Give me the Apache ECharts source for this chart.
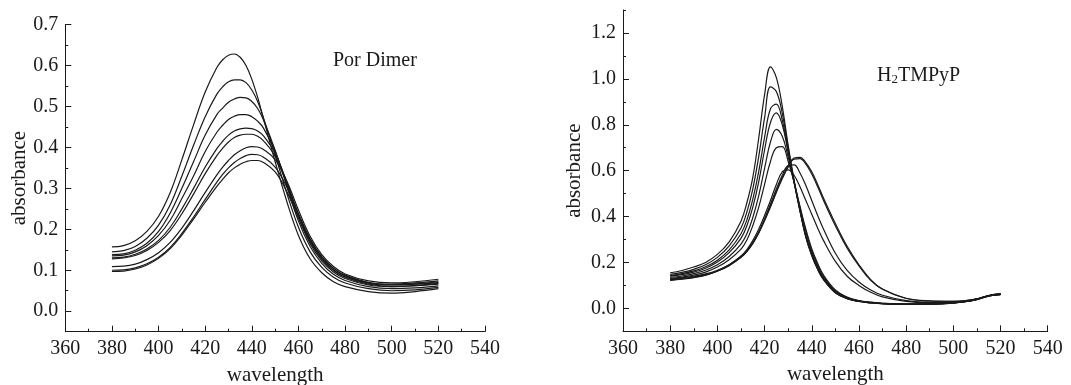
<!DOCTYPE html>
<html><head><meta charset="utf-8">
<script src="https://cdn.jsdelivr.net/npm/echarts@6/dist/echarts.min.js"></script>
<style>html,body{margin:0;padding:0;background:#fff}#c{width:1071px;height:385px}</style>
</head><body><div id="c"></div>
<script>
// ---- Left panel: Por Dimer ----
const wlLeft = [380,385,390,395,400,405,410,415,420,425,427.5,430,432.5,435,437.5,440,442.5,445,450,455,460,465,470,475,480,490,500,510,520];
const dimer1 = [0.157,0.160,0.172,0.195,0.232,0.290,0.370,0.455,0.535,0.595,0.614,0.625,0.628,0.620,0.600,0.566,0.522,0.470,0.365,0.268,0.185,0.128,0.094,0.072,0.060,0.048,0.044,0.048,0.055];
const dimer2 = [0.145,0.148,0.158,0.178,0.210,0.260,0.330,0.405,0.475,0.530,0.548,0.560,0.565,0.565,0.558,0.540,0.512,0.472,0.382,0.288,0.205,0.145,0.107,0.083,0.069,0.055,0.050,0.052,0.058];
const dimer3 = [0.138,0.140,0.149,0.166,0.195,0.240,0.300,0.365,0.430,0.480,0.496,0.510,0.518,0.522,0.521,0.512,0.495,0.467,0.393,0.305,0.220,0.158,0.117,0.090,0.075,0.060,0.055,0.057,0.062];
const dimer4 = [0.135,0.137,0.145,0.160,0.185,0.222,0.275,0.330,0.390,0.437,0.454,0.468,0.476,0.480,0.480,0.475,0.464,0.447,0.390,0.310,0.228,0.165,0.123,0.096,0.080,0.064,0.060,0.062,0.066];
const dimer5 = [0.130,0.132,0.139,0.152,0.173,0.205,0.250,0.300,0.352,0.397,0.415,0.430,0.440,0.445,0.447,0.446,0.440,0.428,0.385,0.315,0.235,0.172,0.128,0.100,0.084,0.068,0.064,0.066,0.070];
const dimer6 = [0.128,0.130,0.136,0.148,0.168,0.197,0.238,0.286,0.336,0.380,0.398,0.413,0.424,0.430,0.432,0.432,0.427,0.416,0.378,0.313,0.238,0.176,0.132,0.104,0.087,0.070,0.066,0.069,0.074];
const dimer7 = [0.109,0.110,0.115,0.126,0.143,0.168,0.203,0.245,0.290,0.333,0.352,0.368,0.382,0.392,0.399,0.402,0.401,0.395,0.370,0.318,0.247,0.183,0.138,0.109,0.091,0.074,0.069,0.072,0.078];
const dimer8 = [0.100,0.101,0.106,0.116,0.132,0.156,0.190,0.230,0.273,0.315,0.334,0.350,0.363,0.373,0.380,0.383,0.382,0.376,0.352,0.303,0.237,0.176,0.133,0.105,0.088,0.070,0.064,0.067,0.072];
const dimer9 = [0.097,0.098,0.103,0.113,0.129,0.153,0.186,0.225,0.266,0.305,0.322,0.338,0.350,0.359,0.365,0.368,0.368,0.363,0.340,0.292,0.228,0.170,0.128,0.100,0.083,0.066,0.060,0.063,0.068];
const dimerSeries = [dimer1,dimer2,dimer3,dimer4,dimer5,dimer6,dimer7,dimer8,dimer9];

// ---- Right panel: H2TMPyP ----
const wlRight = [380,385,390,395,400,405,410,412.5,415,417.5,420,422.5,425,427.5,430,432.5,435,437.5,440,442.5,445,450,455,460,465,470,480,490,500,505,510,515,520];
const tmpyp1 = [0.155,0.165,0.180,0.200,0.235,0.290,0.380,0.460,0.570,0.740,0.930,1.052,1.005,0.880,0.710,0.560,0.430,0.310,0.230,0.170,0.125,0.068,0.042,0.030,0.024,0.020,0.017,0.018,0.023,0.029,0.039,0.054,0.060];
const tmpyp2 = [0.148,0.157,0.170,0.190,0.222,0.272,0.350,0.420,0.520,0.660,0.830,0.965,0.945,0.850,0.700,0.555,0.425,0.310,0.230,0.170,0.125,0.068,0.042,0.030,0.024,0.020,0.017,0.018,0.023,0.029,0.039,0.054,0.060];
const tmpyp3 = [0.143,0.151,0.163,0.181,0.210,0.255,0.325,0.385,0.475,0.595,0.745,0.870,0.890,0.820,0.685,0.550,0.425,0.315,0.235,0.175,0.128,0.070,0.043,0.031,0.025,0.021,0.018,0.019,0.024,0.030,0.040,0.055,0.061];
const tmpyp4 = [0.140,0.147,0.158,0.175,0.202,0.243,0.305,0.360,0.440,0.550,0.690,0.810,0.852,0.800,0.680,0.550,0.430,0.320,0.240,0.180,0.132,0.073,0.045,0.032,0.025,0.021,0.018,0.019,0.024,0.030,0.040,0.055,0.061];
const tmpyp5 = [0.135,0.141,0.151,0.166,0.190,0.226,0.280,0.325,0.395,0.490,0.610,0.725,0.780,0.750,0.660,0.550,0.440,0.335,0.250,0.188,0.138,0.076,0.047,0.033,0.026,0.022,0.019,0.020,0.025,0.031,0.041,0.056,0.062];
const tmpyp6 = [0.130,0.136,0.145,0.158,0.180,0.212,0.258,0.298,0.360,0.440,0.540,0.640,0.700,0.705,0.640,0.550,0.445,0.345,0.260,0.196,0.145,0.080,0.049,0.034,0.027,0.022,0.019,0.020,0.025,0.031,0.041,0.056,0.062];
const tmpyp7 = [0.128,0.133,0.140,0.150,0.166,0.190,0.225,0.250,0.285,0.330,0.385,0.445,0.510,0.570,0.620,0.655,0.658,0.635,0.595,0.540,0.480,0.370,0.270,0.190,0.125,0.083,0.043,0.032,0.030,0.033,0.040,0.055,0.063];
const tmpyp8 = [0.125,0.130,0.137,0.147,0.163,0.187,0.222,0.247,0.282,0.327,0.382,0.442,0.505,0.565,0.615,0.650,0.652,0.628,0.585,0.530,0.470,0.360,0.262,0.185,0.122,0.084,0.044,0.033,0.031,0.034,0.041,0.056,0.064];
const tmpyp9 = [0.123,0.128,0.135,0.145,0.162,0.186,0.222,0.248,0.285,0.332,0.390,0.455,0.520,0.580,0.622,0.625,0.590,0.535,0.470,0.405,0.345,0.240,0.165,0.115,0.080,0.057,0.034,0.026,0.026,0.030,0.039,0.054,0.062];
const tmpyp10 = [0.122,0.127,0.134,0.145,0.163,0.190,0.228,0.256,0.295,0.345,0.405,0.470,0.540,0.595,0.603,0.580,0.530,0.470,0.410,0.350,0.295,0.205,0.140,0.100,0.070,0.050,0.030,0.024,0.025,0.029,0.038,0.053,0.061];
const tmpypSeries = [tmpyp1,tmpyp2,tmpyp3,tmpyp4,tmpyp5,tmpyp6,tmpyp7,tmpyp8,tmpyp9,tmpyp10];

const xTicks = {min:360, max:540, interval:20};
const leftY = {min:-0.05, max:0.7, minorStep:0.05, labelMin:0, labelMax:0.7, labelStep:0.1};
const rightY = {min:-0.1, max:1.3, minorStep:0.1, labelMin:0, labelMax:1.2, labelStep:0.2};

const FONT = '"Liberation Serif","DejaVu Serif",serif';
const INK = '#1a1a1a';

// pixel layout
const L = {left:65.3, top:24.5, width:419.7, height:307.2};
const R = {left:623, top:10, width:424.7, height:321.3};
function labelGrid(g, y){
  const per = g.height/(y.max-y.min);
  const top = g.top + (y.max-y.labelMax)*per;
  const h = (y.labelMax-y.labelMin)*per;
  return {left:g.left, top:top, width:g.width, height:h, outerBoundsMode:'none', containLabel:false};
}
const LB = labelGrid(L, leftY), RB = labelGrid(R, rightY);

function mainX(grid){
  return {type:'value', gridIndex:grid, min:xTicks.min, max:xTicks.max, interval:xTicks.interval,
    name:'wavelength', nameLocation:'middle', nameGap:33,
    nameTextStyle:{fontFamily:FONT, fontSize:21, color:INK},
    axisLine:{show:true, onZero:false, lineStyle:{color:INK, width:1}},
    axisTick:{show:true, inside:true, length:6, lineStyle:{color:INK}},
    minorTick:{show:true, splitNumber:2, length:3, lineStyle:{color:INK}},
    splitLine:{show:false},
    axisLabel:{fontFamily:FONT, fontSize:20, color:INK, margin:7}};
}
function hiddenX(grid){
  return {type:'value', gridIndex:grid, min:xTicks.min, max:xTicks.max, show:false};
}
function mainY(grid, y, gap){
  return {type:'value', gridIndex:grid, min:y.min, max:y.max, interval:y.minorStep,
    name:'absorbance', nameLocation:'middle', nameGap:gap,
    nameTextStyle:{fontFamily:FONT, fontSize:21, color:INK},
    axisLine:{show:true, onZero:false, lineStyle:{color:INK, width:1}},
    axisTick:{show:true, inside:true, length:3, lineStyle:{color:INK}},
    axisLabel:{show:false}, splitLine:{show:false}};
}
function labelY(grid, y){
  return {type:'value', gridIndex:grid, min:y.labelMin, max:y.labelMax, interval:y.labelStep,
    axisLine:{show:false},
    axisTick:{show:true, inside:true, length:6, lineStyle:{color:INK}},
    axisLabel:{fontFamily:FONT, fontSize:20, color:INK, margin:7,
      formatter:v=>v.toFixed(1)},
    splitLine:{show:false}};
}

const series = [];
dimerSeries.forEach((arr)=>{
  series.push({type:'line', xAxisIndex:0, yAxisIndex:0, smooth:0.4, showSymbol:false, silent:true,
    lineStyle:{color:INK, width:1.2}, data:arr.map((v,k)=>[wlLeft[k], v])});
});
tmpypSeries.forEach((arr)=>{
  series.push({type:'line', xAxisIndex:2, yAxisIndex:2, smooth:0.4, showSymbol:false, silent:true,
    lineStyle:{color:INK, width:1.2}, data:arr.map((v,k)=>[wlRight[k], v])});
});

const chart = echarts.init(document.getElementById('c'), null, {renderer:'canvas'});
chart.setOption({
  animation:false,
  backgroundColor:'#ffffff',
  title:[
    {text:'Por Dimer', left:328, top:46, textStyle:{fontFamily:FONT, fontSize:20, fontWeight:'normal', color:INK}},
    {text:'H{sub|2}TMPyP', left:872, top:60, textStyle:{fontFamily:FONT, fontSize:20, fontWeight:'normal', color:INK,
      rich:{sub:{fontFamily:FONT, fontSize:13, color:INK, verticalAlign:'bottom', padding:[8,0,0,0]}}}}
  ],
  grid:[
    {left:L.left, top:L.top, width:L.width, height:L.height, outerBoundsMode:'none', containLabel:false},
    LB,
    {left:R.left, top:R.top, width:R.width, height:R.height, outerBoundsMode:'none', containLabel:false},
    RB
  ],
  xAxis:[mainX(0), hiddenX(1), mainX(2), hiddenX(3)],
  yAxis:[mainY(0, leftY, 35), labelY(1, leftY), mainY(2, rightY, 38), labelY(3, rightY)],
  series:series
});
</script></body></html>
